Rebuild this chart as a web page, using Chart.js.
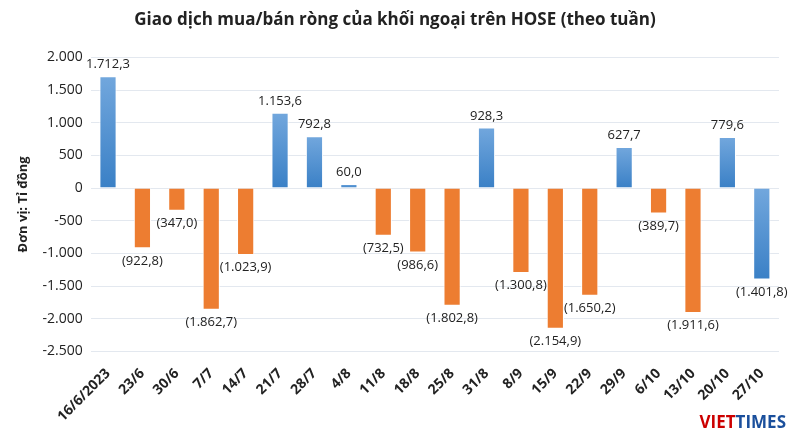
<!DOCTYPE html>
<html><head><meta charset="utf-8">
<script src="https://cdn.jsdelivr.net/npm/chart.js@4"></script>
<style>html,body{margin:0;background:#fff}#wrap{position:relative;width:800px;height:439px}
#logo{position:absolute;right:14px;bottom:6px;font:bold 17px 'Open Sans',sans-serif;color:#c00}#logo span{color:#1a4f9c}</style>
</head><body><div id="wrap"><canvas id="c" width="800" height="439"></canvas><div id="logo">VIET<span>TIMES</span></div></div>
<script>
// tuần giao dịch
const weeks = ['16/6/2023','23/6','30/6','7/7','14/7','21/7','28/7','4/8','11/8','18/8','25/8','31/8','8/9','15/9','22/9','29/9','6/10','13/10','20/10','27/10'];
// giá trị mua/bán ròng (tỉ đồng)
const netValues = [1712.3,-922.8,-347.0,-1862.7,-1023.9,1153.6,792.8,60.0,-732.5,-986.6,-1802.8,928.3,-1300.8,-2154.9,-1650.2,627.7,-389.7,-1911.6,779.6,-1401.8];
const blueIdx = [19]; // tuần cuối tô xanh

const fmt = (v, dec) => {
    const a = Math.abs(v).toFixed(dec).split('.');
    let s = a[0].replace(/\B(?=(\d{3})+(?!\d))/g, '.') + (dec ? ',' + a[1] : '');
    return v < 0 ? '(' + s + ')' : s;
};

const ctx = document.getElementById('c').getContext('2d');
function blueGrad(c) {
    const ch = c.chart;
    if (!ch.chartArea) return '#5b9bd5';
    const y0 = ch.scales.y.getPixelForValue(0), y1 = ch.scales.y.getPixelForValue(netValues[c.dataIndex]);
    const g = ch.ctx.createLinearGradient(0, Math.min(y0, y1), 0, Math.max(y0, y1));
    g.addColorStop(0, '#72a7dd'); g.addColorStop(1, '#3a80c6');
    return g;
}

const labelPlugin = {
    id: 'vals',
    afterDatasetsDraw(chart) {
        const c = chart.ctx, meta = chart.getDatasetMeta(0);
        c.save();
        c.font = '13px "Open Sans", sans-serif';
        c.fillStyle = '#222'; c.textAlign = 'center';
        meta.data.forEach((b, i) => {
            const v = netValues[i];
            if (v >= 0) { c.textBaseline = 'bottom'; c.fillText(fmt(v, 1), b.x, b.y - 5); }
            else { c.textBaseline = 'top'; c.fillText(fmt(v, 1), b.x, b.y + 6); }
        });
        c.restore();
    }
};

new Chart(ctx, {
    type: 'bar',
    data: { labels: weeks, datasets: [{
        data: netValues,
        backgroundColor: c => (netValues[c.dataIndex] >= 0 || blueIdx.includes(c.dataIndex)) ? blueGrad(c) : '#ed7d31',
        borderColor: '#fff', borderWidth: 1, categoryPercentage: 1, barPercentage: 0.5
    }]},
    options: {
        responsive: false, animation: false,
        layout: { padding: { left: 11, right: 21, top: 0, bottom: 8 } },
        plugins: {
            legend: { display: false }, tooltip: { enabled: false },
            title: { display: true, text: 'Giao dịch mua/bán ròng của khối ngoại trên HOSE (theo tuần)',
                font: { family: "'Open Sans', sans-serif", size: 17, weight: 'bold' }, color: '#222', padding: { top: 10, bottom: 27 } }
        },
        scales: {
            y: { min: -2500, max: 2000,
                ticks: { stepSize: 500, padding: 8, callback: v => v < 0 ? '-' + fmt(-v, 0) : fmt(v, 0), color: '#222', font: { family: "'Open Sans', sans-serif", size: 14 } },
                grid: { color: '#e3e8ef', drawTicks: false }, border: { display: false },
                title: { display: true, text: 'Đơn vị: Tỉ đồng', color: '#222', font: { family: "'Open Sans', sans-serif", size: 13, weight: 'bold' } } },
            x: { ticks: { maxRotation: 45, minRotation: 45, padding: 6, color: '#222', font: { family: "'Open Sans', sans-serif", size: 14, weight: 'bold' } },
                grid: { display: false }, border: { display: false } }
        }
    },
    plugins: [labelPlugin]
});
</script></body></html>
